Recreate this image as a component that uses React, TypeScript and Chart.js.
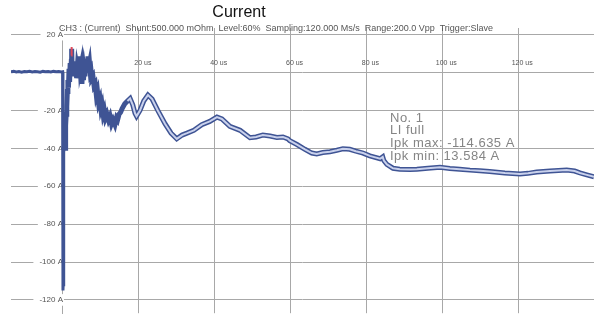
import React, { useEffect, useRef } from 'react';
import { Chart, registerables } from 'chart.js';

Chart.register(...registerables);

const titleText = 'Current';
const subtitleText = 'CH3 : (Current)  Shunt:500.000 mOhm  Level:60%  Sampling:120.000 Ms/s  Range:200.0 Vpp  Trigger:Slave';
const infoLines = ['No. 1', 'LI full', 'Ipk max: -114.635 A', 'Ipk min: 13.584 A'];

const xTicks = [20, 40, 60, 80, 100, 120];
const yTicks = [-120, -100, -80, -60, -40, -20, 0, 20];

const timeUs = [
  -13.7, -13.0, -12.3, -11.6, -10.9, -10.2, -9.5, -8.8, -8.1, -7.4, -6.7, -6.0, -5.3, -4.6, -3.9, -3.2, -2.5, -1.8, -1.1, -0.4, -0.1,
  0.0, 0.05, 0.12, 0.2, 0.26, 0.4, 0.55, 0.7, 0.85, 1.0, 1.15, 1.3, 1.45, 1.6, 1.75, 1.9, 2.05, 2.2, 2.29, 2.4, 2.6, 2.8,
  3.0, 3.2, 3.4, 3.6, 3.8, 4.0, 4.2, 4.45, 4.6, 4.8, 5.0, 5.2, 5.4, 5.6, 5.8, 6.0, 6.2, 6.4, 6.6, 6.8, 7.0, 7.2, 7.4, 7.6,
  7.9, 8.2, 8.5, 8.8, 9.1, 9.4, 9.75, 10.0, 10.3, 10.6, 10.9, 11.2, 11.6, 12.0, 12.4, 12.8, 13.2, 13.7, 14.1, 14.4, 14.8,
  15.2, 15.6, 16.3, 17.0, 17.7, 18.4, 19.0, 19.4, 20.3, 21.3, 22.4, 23.5, 25.0, 26.9, 28.5, 30.0, 31.4, 32.7, 34.5, 36.6,
  38.7, 40.6, 41.9, 44.0, 46.7, 49.3, 50.9, 52.7, 54.6, 56.4, 58.0, 59.3, 59.8, 61.7, 63.8, 65.6, 66.9, 68.5, 70.4, 72.2,
  73.8, 75.6, 77.2, 79.1, 80.9, 83.6, 84.3, 84.6, 85.4, 87.0, 88.8, 91.5, 93.3, 96.2, 99.4, 102.0, 104.6, 107.3, 109.9,
  112.5, 116.5, 120.5, 122.6, 124.9, 128.4, 132.8, 134.9, 136.3, 138.1, 140.0,
];

const currentA = [
  0.4, 0.6, 0.3, 0.5, 0.2, 0.5, 0.4, 0.7, 0.3, 0.5, 0.4, 0.2, 0.6, 0.4, 0.5, 0.3, 0.6, 0.4, 0.5, 0.3, 0.4,
  -115, -112, -70, -45, -42, -38, -40, -28, -22, -18, -10, -4, -8, 2, -5, 5, -2, 6, 12.5, 3, 6, -2,
  4, 0, 6, -3, 3, 1, 5, 8.5, 2, 4, -6, 3, -4, 1, -2, 5, 0, 4, 8.5, 3, 5, 0, 1, -3,
  -2, -7, -6, -12, -10, -16, -14, -19, -17, -22, -20, -24, -22, -25, -23, -27, -25, -27.5, -24, -25, -22,
  -21, -19, -16.5, -15, -13.7, -17, -21.5, -23, -20, -15, -11.9, -14, -20, -27, -32, -35, -33, -32, -30.5, -27.5,
  -25.8, -23.5, -24.5, -28.4, -30.5, -34.4, -34, -33, -33.5, -34.3, -34, -35, -36, -38, -40.5, -42.5, -43, -42.2, -41.8, -41,
  -40.2, -40.5, -41.5, -42.5, -44, -45.5, -44.5, -46.5, -48.5, -50.5, -51, -51.2, -51, -50.5, -50, -50.6, -51, -51.5, -51.8,
  -52.2, -53, -53.5, -53.2, -52.5, -52, -51.5, -52, -53, -54, -55,
];

const peakTime = [2.2, 2.29];
const peakCurrent = [9, 13.5];

const FONT = '"Liberation Sans", Arial, sans-serif';

const textPlugin = {
  id: 'textPlugin',
  afterDraw(chart: any) {
    const ctx = chart.ctx;
    ctx.save();
    ctx.fillStyle = '#111';
    ctx.font = `16px ${FONT}`;
    ctx.textAlign = 'center';
    ctx.textBaseline = 'middle';
    ctx.fillText(titleText, 239, 13);
    ctx.fillStyle = '#555';
    ctx.font = `9px ${FONT}`;
    ctx.textAlign = 'left';
    ctx.fillText(subtitleText, 59, 29);
    ctx.fillStyle = '#858585';
    ctx.font = `13px ${FONT}`;
    ctx.letterSpacing = '0.5px';
    infoLines.forEach((t, i) => ctx.fillText(t, 390, 118 + i * 12.7));
    ctx.restore();
  },
};

export default function App() {
  const ref = useRef<HTMLCanvasElement>(null);
  useEffect(() => {
    if (!ref.current) return;
    const pts = timeUs.map((x, i) => ({ x, y: currentA[i] }));
    const chart = new Chart(ref.current, {
      type: 'line',
      data: {
        datasets: [
          {
            data: pts,
            borderColor: '#3f5494',
            borderWidth: 5,
            pointRadius: 0,
            tension: 0,
            order: 3,
            segment: {
              borderWidth: (c: any) => (c.p0.parsed.x < 0.3 ? 3 : 5),
            },
          },
          {
            data: pts,
            borderColor: '#c9d1ec',
            borderWidth: 2,
            pointRadius: 0,
            tension: 0,
            order: 2,
            segment: {
              borderColor: (c: any) => (c.p0.parsed.x < 17 ? 'rgba(0,0,0,0)' : '#c9d1ec'),
            },
          },
          {
            data: peakTime.map((x, i) => ({ x, y: peakCurrent[i] })),
            borderColor: '#e04a5a',
            borderWidth: 2,
            pointRadius: 0,
            order: 1,
          },
        ],
      },
      options: {
        animation: false,
        responsive: false,
        devicePixelRatio: 1,
        layout: { padding: { top: 28, left: 11, right: 0, bottom: 0 } },
        plugins: { legend: { display: false }, tooltip: { enabled: false } },
        scales: {
          x: {
            type: 'linear',
            min: -13.7,
            max: 140,
            position: { y: 20 } as any,
            afterBuildTicks: (s: any) => {
              s.ticks = xTicks.map((v) => ({ value: v }));
            },
            grid: { color: '#a8a8a8', lineWidth: 1, drawTicks: true, tickLength: 21, tickColor: 'rgba(0,0,0,0)' },
            border: { display: true, color: '#a8a8a8', width: 1 },
            ticks: {
              font: { family: FONT, size: 7 },
              color: '#555',
              maxRotation: 0,
              autoSkip: false,
              labelOffset: 4,
              callback: (v: any) => `${v} us`,
            },
          },
          y: {
            type: 'linear',
            min: -127,
            max: 23.5,
            position: { x: 0 } as any,
            afterBuildTicks: (s: any) => {
              s.ticks = yTicks.map((v) => ({ value: v }));
            },
            grid: { color: '#a8a8a8', lineWidth: 1, drawTicks: false },
            border: { display: true, color: '#a8a8a8', width: 1 },
            ticks: {
              font: { family: FONT, size: 8 },
              color: '#555',
              autoSkip: false,
              showLabelBackdrop: true,
              backdropColor: '#ffffff',
              backdropPadding: { left: 6, right: 1, top: 1, bottom: 1 },
              callback: (v: any) => (v === 0 ? '' : `${v} A`),
            },
          },
        },
      },
      plugins: [textPlugin],
    });
    return () => chart.destroy();
  }, []);
  return (
    <div style={{ position: 'absolute', left: 0, top: 0, width: 594, height: 321, background: '#fff' }}>
      <canvas ref={ref} width={594} height={321} style={{ display: 'block', width: 594, height: 321 }} />
    </div>
  );
}
